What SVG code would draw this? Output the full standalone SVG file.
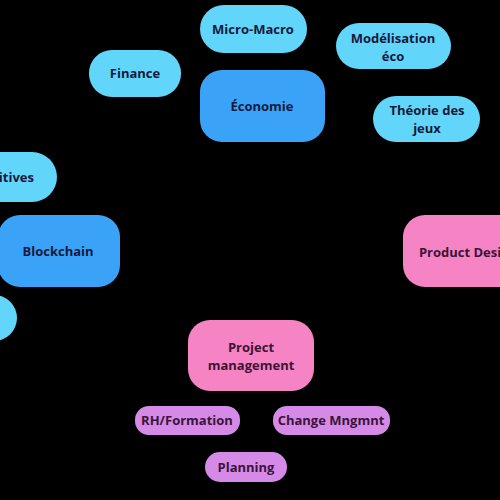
<svg xmlns="http://www.w3.org/2000/svg" width="500" height="500" viewBox="0 0 500 500">
<style>
.t{font-family:"Open Sans","Liberation Sans",sans-serif;font-weight:700;font-size:13px;text-anchor:middle;dominant-baseline:central}
.lb{fill:#62d5fb}
.db{fill:#3aa3f7}
.pk{fill:#f683c4}
.pu{fill:#d68ae8}
.tb{fill:#15193a}
.tp{fill:#3a1538}
</style>
<rect width="500" height="500" fill="#000"/>
<g id="connectors"></g>
<g id="micro-macro"><rect class="lb" x="200" y="5" width="107" height="48" rx="24"/><text class="t tb" x="253" y="29">Micro-Macro</text></g>
<g id="finance"><rect class="lb" x="89" y="50" width="92" height="47" rx="23"/><text class="t tb" x="135" y="73">Finance</text></g>
<g id="economie"><rect class="db" x="200" y="70" width="125" height="72" rx="22"/><text class="t tb" x="262" y="106">Économie</text></g>
<g id="modelisation"><rect class="lb" x="336" y="23" width="115" height="46" rx="23"/><text class="t tb" x="393" y="38">Modélisation</text><text class="t tb" x="393" y="56">éco</text></g>
<g id="theorie"><rect class="lb" x="373" y="96" width="107" height="46" rx="23"/><text class="t tb" x="427" y="110">Théorie des</text><text class="t tb" x="427" y="128">jeux</text></g>
<g id="primitives"><rect class="lb" x="-60" y="152" width="117" height="50" rx="25"/><text class="t tb" x="1" y="177">Primitives</text></g>
<g id="blockchain"><rect class="db" x="-2" y="215" width="122" height="72" rx="22"/><text class="t tb" x="58" y="251">Blockchain</text></g>
<g id="partial"><rect class="lb" x="-80" y="295" width="97" height="46" rx="23"/></g>
<g id="product"><rect class="pk" x="403" y="215" width="130" height="72" rx="22"/><text class="t tp" x="468" y="252">Product Design</text></g>
<g id="project"><rect class="pk" x="188" y="320" width="126" height="71" rx="22"/><text class="t tp" x="251" y="347">Project</text><text class="t tp" x="251" y="365">management</text></g>
<g id="rh"><rect class="pu" x="135" y="406" width="105" height="29" rx="14"/><text class="t tp" x="187" y="420">RH/Formation</text></g>
<g id="change"><rect class="pu" x="273" y="406" width="117" height="29" rx="14"/><text class="t tp" x="331" y="420">Change Mngmnt</text></g>
<g id="planning"><rect class="pu" x="205" y="452" width="82" height="30" rx="15"/><text class="t tp" x="246" y="467">Planning</text></g>
</svg>
